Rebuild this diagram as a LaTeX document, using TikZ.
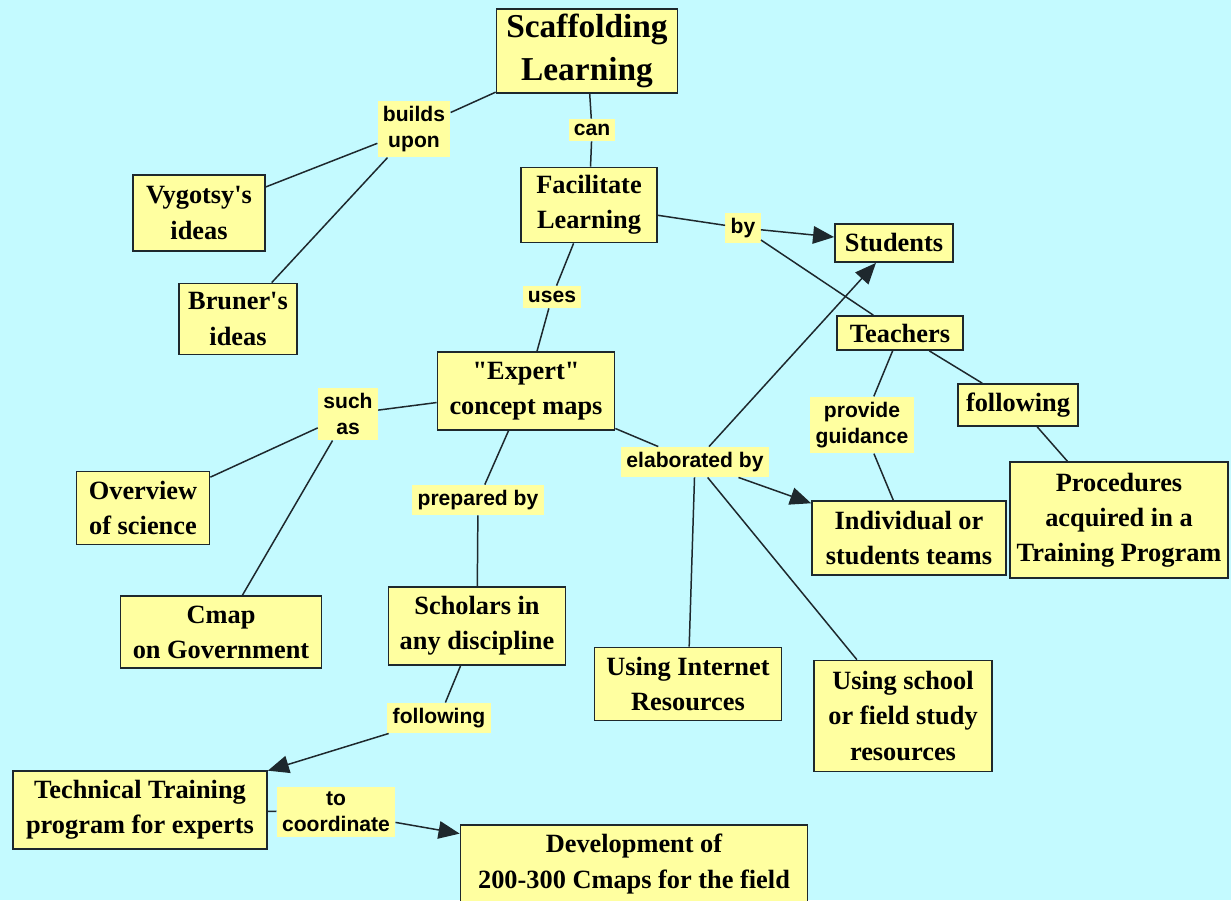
\documentclass[tikz,border=0pt]{standalone}
\usepackage{fontspec}
\setmainfont{Liberation Serif}
\setsansfont{Liberation Sans}
\usetikzlibrary{arrows.meta}

\definecolor{mapbg}{RGB}{196,250,255}
\definecolor{mapyellow}{RGB}{255,255,160}
\definecolor{mapline}{RGB}{30,40,45}

\tikzset{
  concept/.style={draw=mapline, line width=1pt, fill=mapyellow, inner sep=0pt, align=center,
    font=\fontsize{15}{20}\selectfont\bfseries},
  linkword/.style={fill=mapyellow, inner sep=3pt, align=center,
    font=\sffamily\fontsize{12}{15}\selectfont\bfseries},
  link/.style={draw=mapline, line width=0.85pt},
  linkarrow/.style={link, -{Triangle[length=12pt,width=10pt]}},
}

\begin{document}
\begin{tikzpicture}[x=0.02cm, y=-0.02cm]
  % Page and background
  \clip (0,0) rectangle (1231,900);
  \fill[mapbg] (0,0) rectangle (1231,900);

  % Concepts
  \node[concept, minimum width=3.62cm, minimum height=1.68cm, font=\fontsize{19}{24}\selectfont\bfseries]
    (scaffold) at (587,51) {Scaffolding\\Learning};
  \node[concept, minimum width=2.72cm, minimum height=1.5cm] (facil) at (589,205) {Facilitate\\Learning};
  \node[concept, minimum width=2.36cm, minimum height=0.76cm] (students) at (894,243) {Students};
  \node[concept, minimum width=2.64cm, minimum height=1.52cm] (vygotsky) at (199,213) {Vygotsy\textquotesingle s\\ideas};
  \node[concept, minimum width=2.36cm, minimum height=1.42cm] (bruner) at (238,319) {Bruner\textquotesingle s\\ideas};
  \node[concept, minimum width=2.52cm, minimum height=0.68cm] (teachers) at (900,333) {Teachers};
  \node[concept, minimum width=3.54cm, minimum height=1.56cm] (expert) at (526,391) {\textquotedbl Expert\textquotedbl\\concept maps};
  \node[concept, minimum width=2.4cm, minimum height=0.84cm] (follow) at (1018,405) {following};
  \node[concept, minimum width=2.66cm, minimum height=1.46cm] (overview) at (143,508) {Overview\\of science};
  \node[concept, minimum width=3.88cm, minimum height=1.48cm] (individual) at (909,538) {Individual or\\students teams};
  \node[concept, minimum width=4.36cm, minimum height=2.32cm] (procedures) at (1119,520) {Procedures\\acquired in a\\Training Program};
  \node[concept, minimum width=4.02cm, minimum height=1.44cm] (cmapgov) at (221,632) {Cmap\\on Government};
  \node[concept, minimum width=3.54cm, minimum height=1.56cm] (scholars) at (477,626) {Scholars in\\any discipline};
  \node[concept, minimum width=3.74cm, minimum height=1.46cm] (internet) at (688,684) {Using Internet\\Resources};
  \node[concept, minimum width=3.56cm, minimum height=2.22cm] (school) at (903,716) {Using school\\or field study\\resources};
  \node[concept, minimum width=5.08cm, minimum height=1.56cm] (technical) at (140,810) {Technical Training\\program for experts};
  \node[concept, minimum width=6.94cm, minimum height=1.56cm] (develop) at (634,864) {Development of\\200-300 Cmaps for the field};

  % Linking words
  \node[linkword] (builds) at (414,129) {builds\\upon};
  \node[linkword] (can) at (592,130) {can};
  \node[linkword] (by) at (743,228) {by};
  \node[linkword] (uses) at (552,297) {uses};
  \node[linkword] (suchas) at (348,414) {such\\as};
  \node[linkword] (guidance) at (862,425) {provide\\guidance};
  \node[linkword] (elaborated) at (695,462) {elaborated by};
  \node[linkword] (prepared) at (478,500) {prepared by};
  \node[linkword] (following) at (439,718) {following};
  \node[linkword] (coordinate) at (336,812) {to\\coordinate};

  % Links
  \draw[link] (scaffold) -- (builds);
  \draw[link] (builds) -- (vygotsky);
  \draw[link] (builds) -- (bruner);
  \draw[link] (scaffold) -- (can);
  \draw[link] (can) -- (facil);
  \draw[link] (facil) -- (by);
  \draw[linkarrow] (by) -- (students);
  \draw[link] (by) -- (teachers);
  \draw[link] (facil) -- (uses);
  \draw[link] (uses) -- (expert);
  \draw[link] (expert) -- (suchas);
  \draw[link] (suchas) -- (overview);
  \draw[link] (suchas) -- (cmapgov);
  \draw[link] (expert) -- (prepared);
  \draw[link] (prepared) -- (scholars);
  \draw[link] (expert) -- (elaborated);
  \draw[linkarrow] (elaborated) -- (students);
  \draw[linkarrow] (elaborated) -- (individual);
  \draw[link] (elaborated) -- (internet);
  \draw[link] (elaborated) -- (school);
  \draw[link] (teachers) -- (guidance);
  \draw[link] (guidance) -- (individual);
  \draw[link] (teachers) -- (follow);
  \draw[link] (follow) -- (procedures);
  \draw[link] (scholars) -- (following);
  \draw[linkarrow] (following) -- (technical);
  \draw[link] (technical) -- (coordinate);
  \draw[linkarrow] (coordinate) -- (develop);
\end{tikzpicture}
\end{document}
